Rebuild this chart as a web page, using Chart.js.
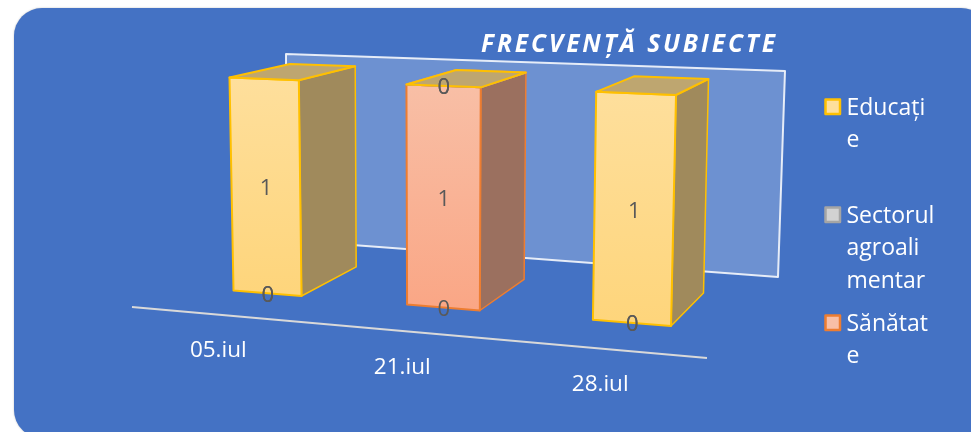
<!DOCTYPE html>
<html><head><meta charset="utf-8">
<style>html,body{margin:0;padding:0;background:#fff}canvas{display:block}</style>
<script src="https://cdn.jsdelivr.net/npm/chart.js@4/dist/chart.umd.min.js"></script>
</head><body><canvas id="c" width="971" height="432"></canvas>
<script>
const categories = ["05.iul", "21.iul", "28.iul"];
const educatie = [1, 0, 1];
const sector = [0, 0, 0];
const sanatate = [0, 1, 0];
const unnamedSeries = [null, 0, null];
const titleText = "FRECVENȚĂ SUBIECTE";
const legendLines = [["Educați", "e"], ["Sectorul", "agroali", "mentar"], ["Sănătat", "e"]];

const FONT = "'Open Sans', Lato, sans-serif";
const FRONT_QUAD = [[229.5,77.5],[676,95],[671,326],[233.5,290.5]];
const BACK_QUAD = [[290,64],[708.5,79],[703.5,293],[292,262]];
const WALL = [[286,54],[785,71],[778,277],[286,240]];
const AXIS_LINE = [[132,307],[707,358]];
const TICK_OFFSET = [[-49,57.5],[-41,60],[-31.5,62]];

function sq2quad(p){
  const [[x0,y0],[x1,y1],[x2,y2],[x3,y3]] = p;
  const dx1=x1-x2,dx2=x3-x2,sx=x0-x1+x2-x3,dy1=y1-y2,dy2=y3-y2,sy=y0-y1+y2-y3;
  const den=dx1*dy2-dx2*dy1;
  const g=(sx*dy2-dx2*sy)/den,h=(dx1*sy-sx*dy1)/den;
  return {a:x1-x0+g*x1,b:x3-x0+h*x3,c:x0,d:y1-y0+g*y1,e:y3-y0+h*y3,f:y0,g,h};
}
function projector(quad,x0,x1,y0,y1){
  const m=sq2quad(quad);
  return (x,y)=>{const u=(x-x0)/(x1-x0),v=(y-y0)/(y1-y0),w=m.g*u+m.h*v+1;
    return [(m.a*u+m.b*v+m.c)/w,(m.d*u+m.e*v+m.f)/w];};
}
function poly(ctx,pts,fill,stroke,lw){
  ctx.beginPath();pts.forEach((p,i)=>i?ctx.lineTo(p[0],p[1]):ctx.moveTo(p[0],p[1]));ctx.closePath();
  if(fill){ctx.fillStyle=fill;ctx.fill();}
  if(stroke){ctx.strokeStyle=stroke;ctx.lineWidth=lw;ctx.lineJoin='round';ctx.stroke();}
}
const scene = {
  id:'scene',
  beforeDatasetDraw(){return false;},
  beforeDraw(chart){
    const ctx=chart.ctx;
    ctx.save();
    ctx.fillStyle='#fff';ctx.fillRect(0,0,971,432);
    ctx.shadowColor='rgba(0,0,0,.25)';ctx.shadowBlur=2;
    ctx.beginPath();ctx.roundRect(14,8,975,430,28);ctx.fillStyle='#4472C4';ctx.fill();
    ctx.restore();
    ctx.save();
    poly(ctx,WALL,'rgba(255,255,255,.22)','rgba(255,255,255,.85)',2);
    ctx.beginPath();ctx.moveTo(...AXIS_LINE[0]);ctx.lineTo(...AXIS_LINE[1]);
    ctx.strokeStyle='#D9D9D9';ctx.lineWidth=2;ctx.stroke();
    ctx.restore();
  },
  afterDatasetsDraw(chart){
    const ctx=chart.ctx, metas=chart._getSortedDatasetMetas();
    const xs=[];metas.forEach(m=>m.data.forEach(e=>{if(!isNaN(e.y)){xs.push(e.x-e.width/2,e.x+e.width/2);}}));
    const xL=Math.min(...xs),xR=Math.max(...xs),yT=chart.scales.y.getPixelForValue(1),yB=chart.scales.y.getPixelForValue(0);
    const F=projector(FRONT_QUAD,xL,xR,yT,yB),B=projector(BACK_QUAD,xL,xR,yT,yB);
    ctx.save();
    categories.forEach((_,i)=>{
      metas.forEach(meta=>{
        const ds=chart.data.datasets[meta.index],el=meta.data[i];
        if(!el||ds.data[i]===null||!ds.face)return;
        const l=el.x-el.width/2,r=el.x+el.width/2,t=el.y,b=el.base;
        const h=Math.abs(b-t);
        if(h<0.5&&Math.abs(b-yB)<0.5)return;
        const top=[F(l,t),F(r,t),B(r,t),B(l,t)];
        if(h>=0.5){
          const front=[F(l,t),F(r,t),F(r,b),F(l,b)],side=[F(r,t),B(r,t),B(r,b),F(r,b)];
          poly(ctx,side,ds.face.side,ds.borderColor,1.5);
          const g=ctx.createLinearGradient(0,front[0][1],0,front[2][1]);
          g.addColorStop(0,ds.face.frontTop);g.addColorStop(1,ds.face.frontBottom);
          poly(ctx,front,g,ds.borderColor,2);
        }
        poly(ctx,top,ds.face.top,ds.borderColor,2);
      });
    });
    // value labels
    ctx.fillStyle='#595959';ctx.font='22px '+FONT;ctx.textAlign='center';ctx.textBaseline='middle';
    metas.forEach(meta=>{
      const ds=chart.data.datasets[meta.index];
      meta.data.forEach((el,i)=>{
        if(ds.data[i]===null)return;
        const p=F(el.x,(el.y+el.base)/2);
        ctx.fillText(String(ds.data[i]),p[0]+0.5,p[1]+2);
      });
    });
    // category labels
    ctx.fillStyle='#fff';ctx.font='22.5px '+FONT;
    const sc=chart.scales.x;
    categories.forEach((c,i)=>{
      const p=F(sc.getPixelForTick(i),yB);
      ctx.fillText(c,p[0]+TICK_OFFSET[i][0],p[1]+TICK_OFFSET[i][1]);
    });
    // title
    ctx.font='italic bold 24.5px '+FONT;ctx.textAlign='left';ctx.letterSpacing='2.9px';
    ctx.fillText(titleText,481,45.5);ctx.letterSpacing='0px';
    // legend
    const tops=[98,206,314],stylesL=[chart.data.datasets[0],chart.data.datasets[1],chart.data.datasets[2]];
    ctx.font='23px '+FONT;ctx.textBaseline='middle';
    stylesL.forEach((ds,k)=>{
      ctx.fillStyle=ds.face.frontTop;ctx.strokeStyle=ds.borderColor;ctx.lineWidth=2.5;
      ctx.beginPath();ctx.rect(825.5,tops[k]+1.5,14.5,14.5);ctx.fill();ctx.stroke();
      ctx.fillStyle='#fff';
      legendLines[k].forEach((t,j)=>ctx.fillText(t,846.5,tops[k]+10+j*32.5));
    });
    ctx.restore();
  }
};
new Chart(document.getElementById('c'),{
  type:'bar',
  data:{labels:categories,datasets:[
    {label:'Educație',data:educatie,order:3,backgroundColor:'#FFDF9E',borderColor:'#FFC000',
     face:{frontTop:'#FEDF9C',frontBottom:'#FED57B',side:'#A08A5C',top:'#BEA670'}},
    {label:'Sectorul agroalimentar',data:sector,order:2,backgroundColor:'#D0D0D0',borderColor:'#A5A5A5',
     face:{frontTop:'#D2D2D2',frontBottom:'#C4C4C4',side:'#8A8A8A',top:'#AAAAAA'}},
    {label:'Sănătate',data:sanatate,order:1,backgroundColor:'#F8BEA5',borderColor:'#ED7D31',
     face:{frontTop:'#F8BFA6',frontBottom:'#FAA685',side:'#9B705F',top:'#BEA26E'}},
    {label:'',data:unnamedSeries,order:0,backgroundColor:'transparent',borderColor:'transparent'}
  ]},
  options:{
    responsive:false,animation:false,
    layout:{padding:{left:230,right:262,top:78,bottom:132}},
    datasets:{bar:{categoryPercentage:0.4,barPercentage:1}},
    scales:{
      x:{stacked:true,display:false,offset:true},
      y:{stacked:true,display:false,min:0,max:1}
    },
    plugins:{legend:{display:false},tooltip:{enabled:false},title:{display:false}}
  },
  plugins:[scene]
});
</script></body></html>
